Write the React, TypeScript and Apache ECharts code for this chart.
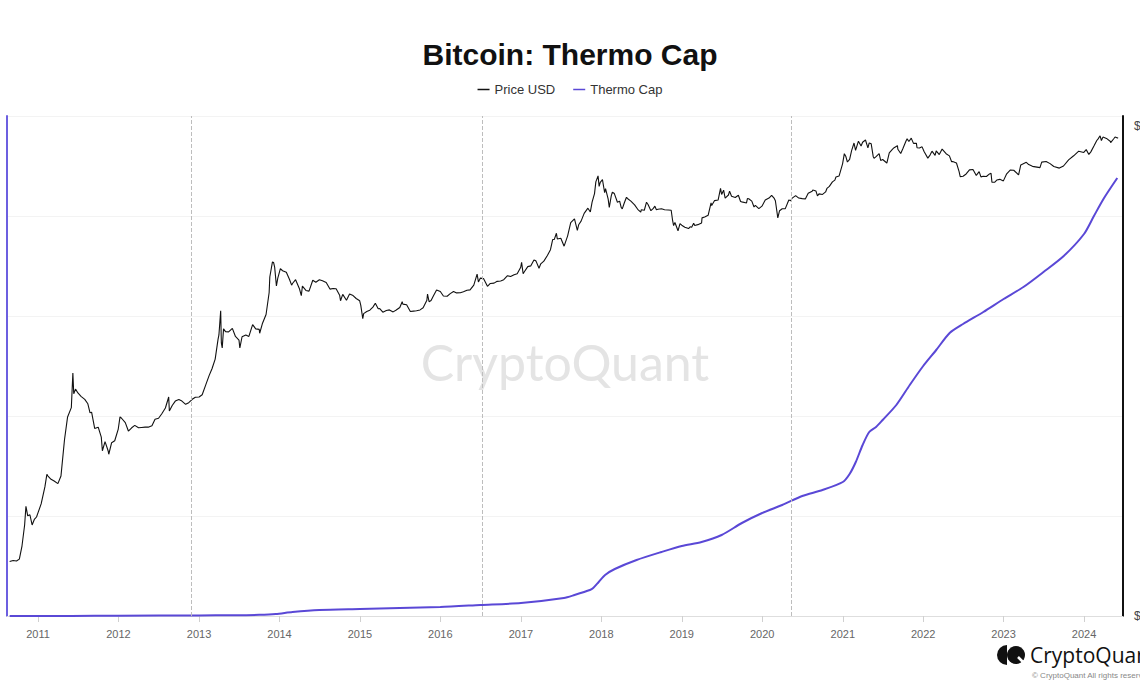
import React, { useEffect, useRef } from "react";
import * as echarts from "echarts";

const chartTitle = "Bitcoin: Thermo Cap";
const legendNames = ["Price USD", "Thermo Cap"];
const halvingDates = ["2012-11-28", "2016-07-09", "2020-05-11"];

// Thermo Cap (USD billions)
const thermoCap: [string, number][] = [
  ["2010-08-25", 0], ["2011-06-01", 0.01], ["2012-01-01", 0.02], ["2013-01-01", 0.06],
  ["2013-06-01", 0.08], ["2013-10-01", 0.12], ["2013-12-15", 0.2], ["2014-03-01", 0.4],
  ["2014-07-01", 0.6], ["2015-01-01", 0.7], ["2015-07-01", 0.8], ["2016-01-01", 0.9],
  ["2016-07-01", 1.1], ["2017-01-01", 1.3], ["2017-07-15", 1.8], ["2017-09-01", 2.1],
  ["2017-11-10", 2.6], ["2017-11-25", 2.8], ["2017-12-20", 3.4], ["2018-01-18", 4.1],
  ["2018-03-03", 4.7], ["2018-06-10", 5.6], ["2018-10-01", 6.4], ["2019-01-01", 7.0],
  ["2019-04-01", 7.4], ["2019-07-01", 8.1], ["2019-10-01", 9.3], ["2020-01-01", 10.3],
  ["2020-04-01", 11.1], ["2020-07-01", 12.0], ["2020-10-01", 12.6], ["2021-01-01", 13.4],
  ["2021-02-01", 14.2], ["2021-03-01", 15.4], ["2021-04-01", 17.1], ["2021-05-01", 18.4],
  ["2021-06-01", 18.9], ["2021-07-01", 19.6], ["2021-09-01", 21.1], ["2021-11-01", 23.1],
  ["2022-01-01", 25.0], ["2022-03-01", 26.6], ["2022-05-01", 28.3], ["2022-07-01", 29.2],
  ["2022-10-01", 30.4], ["2023-01-01", 31.7], ["2023-04-01", 32.9], ["2023-07-01", 34.4],
  ["2023-10-01", 36.0], ["2024-01-01", 38.2], ["2024-02-15", 40.0], ["2024-04-01", 41.8],
  ["2024-05-31", 43.8],
];

// Price USD (log scale)
const priceUsd: [string, number][] = [
  ["2010-08-25", 0.06], ["2010-09-10", 0.062], ["2010-09-25", 0.061], ["2010-10-08", 0.065],
  ["2010-10-20", 0.1], ["2010-11-01", 0.2], ["2010-11-07", 0.37], ["2010-11-15", 0.27],
  ["2010-11-25", 0.28], ["2010-12-05", 0.2], ["2010-12-15", 0.24], ["2010-12-25", 0.26],
  ["2011-01-01", 0.3], ["2011-01-15", 0.4], ["2011-02-01", 0.7], ["2011-02-10", 1.06],
  ["2011-02-15", 1.0], ["2011-03-01", 0.9], ["2011-03-15", 0.85], ["2011-04-01", 0.78],
  ["2011-04-15", 1.0], ["2011-05-01", 3.3], ["2011-05-15", 7.0], ["2011-06-01", 9.5],
  ["2011-06-08", 29.6], ["2011-06-12", 15], ["2011-06-20", 17.5], ["2011-07-01", 15.4],
  ["2011-07-15", 13.8], ["2011-08-01", 12.5], ["2011-08-15", 10.8], ["2011-08-25", 8],
  ["2011-09-01", 8.2], ["2011-09-15", 4.8], ["2011-10-01", 5], ["2011-10-15", 3.6],
  ["2011-10-20", 2.3], ["2011-11-01", 3.1], ["2011-11-15", 2.3], ["2011-11-18", 2.05],
  ["2011-12-01", 3.0], ["2011-12-15", 3.2], ["2011-12-31", 4.7],
  ["2012-01-08", 7], ["2012-01-15", 6.7], ["2012-02-01", 5.8], ["2012-02-15", 4.4],
  ["2012-03-01", 4.9], ["2012-03-15", 5.3], ["2012-04-01", 4.9], ["2012-04-15", 4.95],
  ["2012-05-01", 5.0], ["2012-05-15", 5.0], ["2012-06-01", 5.25], ["2012-06-15", 6.5],
  ["2012-07-01", 6.7], ["2012-07-15", 7.7], ["2012-08-01", 9.4], ["2012-08-16", 13.5],
  ["2012-08-19", 8.5], ["2012-09-01", 10.2], ["2012-09-15", 11.8], ["2012-10-01", 12.4],
  ["2012-10-15", 11.8], ["2012-11-01", 10.6], ["2012-11-15", 11.2], ["2012-12-01", 12.5],
  ["2012-12-15", 13.4],
  ["2013-01-01", 13.5], ["2013-01-15", 14.5], ["2013-02-01", 20.4], ["2013-02-15", 27],
  ["2013-03-01", 34.5], ["2013-03-15", 47], ["2013-03-28", 90], ["2013-04-01", 104],
  ["2013-04-09", 230], ["2013-04-12", 80], ["2013-04-16", 68], ["2013-04-22", 127],
  ["2013-05-01", 116], ["2013-05-15", 115], ["2013-06-01", 129], ["2013-06-15", 99],
  ["2013-07-01", 88], ["2013-07-05", 68], ["2013-07-15", 98], ["2013-08-01", 104],
  ["2013-08-15", 99], ["2013-09-01", 146], ["2013-09-15", 127], ["2013-10-01", 125],
  ["2013-10-03", 110], ["2013-10-15", 150], ["2013-11-01", 204], ["2013-11-15", 420],
  ["2013-11-18", 700], ["2013-11-30", 1150], ["2013-12-05", 1130], ["2013-12-10", 970],
  ["2013-12-18", 520], ["2013-12-24", 670],
  ["2014-01-05", 920], ["2014-01-15", 860], ["2014-02-01", 820], ["2014-02-15", 650],
  ["2014-02-25", 535], ["2014-03-01", 565], ["2014-03-15", 640], ["2014-04-01", 480],
  ["2014-04-10", 380], ["2014-04-15", 520], ["2014-05-01", 450], ["2014-05-15", 440],
  ["2014-06-01", 630], ["2014-06-15", 590], ["2014-07-01", 640], ["2014-07-15", 620],
  ["2014-08-01", 585], ["2014-08-18", 470], ["2014-09-01", 480], ["2014-09-15", 475],
  ["2014-10-01", 385], ["2014-10-05", 320], ["2014-10-15", 395], ["2014-11-01", 325],
  ["2014-11-15", 400], ["2014-12-01", 380], ["2014-12-15", 345], ["2014-12-31", 320],
  ["2015-01-05", 275], ["2015-01-14", 178], ["2015-01-18", 210], ["2015-02-01", 225],
  ["2015-02-15", 235], ["2015-03-01", 260], ["2015-03-12", 295], ["2015-03-25", 246],
  ["2015-04-01", 247], ["2015-04-15", 220], ["2015-05-01", 232], ["2015-05-15", 237],
  ["2015-06-01", 222], ["2015-06-15", 236], ["2015-07-01", 257], ["2015-07-12", 310],
  ["2015-07-15", 287], ["2015-08-01", 281], ["2015-08-18", 225], ["2015-09-01", 228],
  ["2015-09-15", 230], ["2015-10-01", 237], ["2015-10-15", 254], ["2015-11-01", 325],
  ["2015-11-04", 400], ["2015-11-11", 310], ["2015-11-20", 323], ["2015-12-01", 378],
  ["2015-12-15", 455],
  ["2016-01-01", 434], ["2016-01-15", 375], ["2016-02-01", 372], ["2016-02-15", 405],
  ["2016-03-01", 435], ["2016-03-15", 415], ["2016-04-01", 417], ["2016-04-15", 430],
  ["2016-05-01", 452], ["2016-05-15", 458], ["2016-06-01", 536], ["2016-06-16", 768],
  ["2016-06-22", 595], ["2016-07-01", 675], ["2016-07-15", 665], ["2016-08-02", 515],
  ["2016-08-15", 566], ["2016-09-01", 572], ["2016-09-15", 607], ["2016-10-01", 615],
  ["2016-10-15", 640], ["2016-11-01", 730], ["2016-11-15", 712], ["2016-12-01", 753],
  ["2016-12-15", 780], ["2016-12-31", 964],
  ["2017-01-04", 1135], ["2017-01-11", 780], ["2017-01-15", 820], ["2017-02-01", 985],
  ["2017-02-15", 1010], ["2017-03-01", 1222], ["2017-03-10", 1190], ["2017-03-24", 935],
  ["2017-04-01", 1080], ["2017-04-15", 1180], ["2017-05-01", 1420], ["2017-05-15", 1720],
  ["2017-05-25", 2400], ["2017-06-01", 2400], ["2017-06-11", 2950], ["2017-06-15", 2450],
  ["2017-07-01", 2500], ["2017-07-16", 1930], ["2017-08-01", 2710], ["2017-08-15", 4180],
  ["2017-09-01", 4740], ["2017-09-14", 3250], ["2017-09-20", 3900], ["2017-10-01", 4400],
  ["2017-10-15", 5680], ["2017-11-01", 6740], ["2017-11-12", 5950], ["2017-11-20", 8200],
  ["2017-12-01", 10900], ["2017-12-07", 16000], ["2017-12-17", 19500], ["2017-12-22", 13800],
  ["2017-12-27", 15800],
  ["2018-01-06", 17200], ["2018-01-16", 11200], ["2018-01-20", 12800], ["2018-02-01", 9100],
  ["2018-02-06", 6900], ["2018-02-15", 10100], ["2018-02-20", 11400], ["2018-03-01", 10900],
  ["2018-03-15", 8200], ["2018-03-25", 8500], ["2018-04-01", 6900], ["2018-04-06", 6600],
  ["2018-04-15", 8000], ["2018-04-25", 9650], ["2018-05-01", 9200], ["2018-05-15", 8500],
  ["2018-06-01", 7500], ["2018-06-15", 6500], ["2018-06-29", 5900], ["2018-07-01", 6400],
  ["2018-07-15", 6300], ["2018-07-25", 8200], ["2018-08-01", 7600], ["2018-08-14", 6200],
  ["2018-08-25", 6700], ["2018-09-01", 7200], ["2018-09-08", 6400], ["2018-09-15", 6500],
  ["2018-10-01", 6600], ["2018-10-15", 6400], ["2018-11-01", 6350], ["2018-11-14", 6300],
  ["2018-11-20", 4600], ["2018-11-25", 3800], ["2018-12-01", 4200], ["2018-12-15", 3200],
  ["2018-12-24", 4050],
  ["2019-01-01", 3850], ["2019-01-15", 3600], ["2019-02-01", 3450], ["2019-02-08", 3650],
  ["2019-02-15", 3600], ["2019-02-24", 4100], ["2019-03-01", 3800], ["2019-03-15", 3920],
  ["2019-04-01", 4140], ["2019-04-03", 4900], ["2019-04-15", 5040], ["2019-05-01", 5350],
  ["2019-05-14", 8000], ["2019-05-17", 7350], ["2019-05-30", 8650], ["2019-06-01", 8550],
  ["2019-06-15", 8800], ["2019-06-26", 12900], ["2019-07-01", 10600], ["2019-07-10", 12200],
  ["2019-07-17", 9400], ["2019-08-01", 10400], ["2019-08-06", 11800], ["2019-08-15", 10000],
  ["2019-09-01", 9600], ["2019-09-15", 10300], ["2019-09-25", 8400], ["2019-10-01", 8300],
  ["2019-10-22", 8000], ["2019-10-26", 9250], ["2019-11-01", 9200], ["2019-11-15", 8500],
  ["2019-11-25", 7000], ["2019-12-01", 7400], ["2019-12-17", 6650], ["2019-12-31", 7200],
  ["2020-01-15", 8800], ["2020-02-01", 9400], ["2020-02-13", 10300], ["2020-02-25", 9300],
  ["2020-03-01", 8600], ["2020-03-12", 4900], ["2020-03-20", 6200], ["2020-04-01", 6600],
  ["2020-04-15", 6650], ["2020-05-01", 8800], ["2020-05-10", 8600], ["2020-05-15", 9300],
  ["2020-06-01", 10200], ["2020-06-15", 9400], ["2020-07-01", 9230], ["2020-07-15", 9150],
  ["2020-07-28", 11000], ["2020-08-15", 11800], ["2020-08-18", 12250], ["2020-09-01", 11900],
  ["2020-09-08", 10100], ["2020-09-15", 10800], ["2020-10-01", 10600], ["2020-10-15", 11500],
  ["2020-10-21", 12900], ["2020-11-01", 13800], ["2020-11-15", 16000], ["2020-11-26", 17000],
  ["2020-12-01", 18800], ["2020-12-15", 19400], ["2020-12-31", 29000],
  ["2021-01-08", 40500], ["2021-01-15", 36800], ["2021-01-22", 30800], ["2021-02-01", 33500],
  ["2021-02-10", 44800], ["2021-02-21", 57500], ["2021-02-28", 45200], ["2021-03-13", 61200],
  ["2021-03-25", 52300], ["2021-04-01", 59000], ["2021-04-14", 63500], ["2021-04-25", 49000],
  ["2021-05-01", 57800], ["2021-05-10", 56000], ["2021-05-19", 37000], ["2021-05-23", 34700],
  ["2021-06-01", 36700], ["2021-06-15", 40500], ["2021-06-22", 32500], ["2021-07-01", 33500],
  ["2021-07-20", 29800], ["2021-07-31", 41500], ["2021-08-15", 47000], ["2021-08-22", 49300],
  ["2021-09-06", 52700], ["2021-09-08", 46800], ["2021-09-21", 40700], ["2021-10-01", 48100],
  ["2021-10-15", 61500], ["2021-10-20", 66000], ["2021-10-28", 60500], ["2021-11-08", 67500],
  ["2021-11-10", 64900], ["2021-11-18", 56900], ["2021-12-01", 57200], ["2021-12-04", 49300],
  ["2021-12-15", 48900], ["2021-12-27", 50700],
  ["2022-01-05", 43500], ["2022-01-22", 35000], ["2022-02-01", 38700], ["2022-02-10", 44000],
  ["2022-02-24", 38300], ["2022-03-01", 44400], ["2022-03-15", 39300], ["2022-03-28", 47100],
  ["2022-04-15", 40500], ["2022-04-30", 37700], ["2022-05-10", 31000], ["2022-05-15", 31300],
  ["2022-06-01", 29800], ["2022-06-13", 22500], ["2022-06-18", 19000], ["2022-07-01", 19300],
  ["2022-07-15", 20800], ["2022-07-30", 23800], ["2022-08-15", 24100], ["2022-08-30", 19800],
  ["2022-09-12", 22400], ["2022-09-20", 18900], ["2022-10-01", 19300], ["2022-10-15", 19100],
  ["2022-10-29", 20800], ["2022-11-05", 21300], ["2022-11-09", 15900], ["2022-11-21", 15800],
  ["2022-12-01", 17000], ["2022-12-15", 17400], ["2022-12-31", 16550],
  ["2023-01-15", 20900], ["2023-02-01", 23700], ["2023-02-16", 23500], ["2023-03-10", 20200],
  ["2023-03-20", 28000], ["2023-04-14", 30500], ["2023-04-25", 28300], ["2023-05-12", 26700],
  ["2023-06-15", 25600], ["2023-06-23", 30700], ["2023-07-13", 31400], ["2023-07-31", 29200],
  ["2023-08-17", 26600], ["2023-09-11", 25200], ["2023-09-30", 27000], ["2023-10-23", 33000],
  ["2023-11-15", 37800], ["2023-12-08", 44000], ["2023-12-31", 42200],
  ["2024-01-11", 46300], ["2024-01-23", 39500], ["2024-02-01", 43000], ["2024-02-15", 52000],
  ["2024-02-28", 62500], ["2024-03-05", 66000], ["2024-03-14", 73000], ["2024-03-20", 62500],
  ["2024-03-27", 69900], ["2024-04-12", 67000], ["2024-04-30", 60600], ["2024-05-01", 58300],
  ["2024-05-15", 66200], ["2024-05-21", 70100], ["2024-06-01", 67700], ["2024-06-03", 69000],
];

const xMin = "2010-08-13";
const xMax = "2024-06-26";

export default function App() {
  const ref = useRef<HTMLDivElement>(null);
  useEffect(() => {
    const chart = echarts.init(ref.current!, null, { renderer: "svg" });
    const purple = "#5a48d6";
    const font = "'Liberation Sans', Arial, sans-serif";
    chart.setOption({
      animation: false,
      backgroundColor: "#ffffff",
      title: {
        text: chartTitle,
        left: "center",
        top: 34,
        textStyle: { fontSize: 30, fontWeight: "bold", color: "#111", fontFamily: font },
      },
      legend: {
        data: legendNames,
        top: 78,
        left: "center",
        itemGap: 18,
        itemWidth: 12,
        itemHeight: 1.5,
        icon: "rect",
        textStyle: { fontSize: 13, color: "#333", fontFamily: font },
      },
      grid: { left: 7, right: 17, top: 116, bottom: 78, containLabel: false, outerBoundsMode: "none" },
      xAxis: {
        type: "time",
        min: xMin,
        max: xMax,
        splitNumber: 14,
        minInterval: 365 * 86400000,
        maxInterval: 366 * 86400000,
        axisLine: { lineStyle: { color: "#dedede" } },
        axisTick: { show: true, length: 6, lineStyle: { color: "#d0d0d0" } },
        axisLabel: { formatter: "{yyyy}", color: "#666", fontSize: 11, margin: 12, fontFamily: font },
        splitLine: { show: false },
      },
      yAxis: [
        {
          type: "value",
          position: "left",
          min: 0,
          max: 50,
          interval: 10,
          axisLine: { show: true, lineStyle: { color: "#6c5fe0", width: 2 } },
          axisTick: { show: false },
          axisLabel: { show: false },
          splitLine: { show: true, lineStyle: { color: "#f3f3f3", width: 1 } },
        },
        {
          type: "log",
          position: "right",
          min: 0.01,
          max: 140000,
          axisLine: { show: true, lineStyle: { color: "#111", width: 2 } },
          axisTick: { show: false },
          splitLine: { show: false },
          axisLabel: {
            show: true,
            margin: 11,
            color: "#444",
            fontSize: 12,
            fontFamily: font,
            formatter: (v: number) => {
              const l = Math.log10(v);
              if (Math.abs(l - 5) < 1e-6) return "$100K";
              if (Math.abs(l + 2) < 1e-6) return "$0.01";
              return "";
            },
          },
        },
      ],
      graphic: [
        {
          type: "text",
          x: 565,
          y: 362,
          z: 0,
          silent: true,
          style: {
            text: "CryptoQuant",
            fontSize: 50,
            fontFamily: "Lato, 'Open Sans', sans-serif",
            fill: "#e4e4e4",
            textAlign: "center",
            textVerticalAlign: "middle",
          },
        },
        {
          type: "sector",
          shape: { cx: 1007, cy: 655, r: 10, r0: 0, startAngle: Math.PI / 2, endAngle: (3 * Math.PI) / 2 },
          style: { fill: "#111" },
        },
        {
          type: "circle",
          shape: { cx: 1016, cy: 655, r: 9 },
          style: { fill: "#111" },
        },
        {
          type: "line",
          shape: { x1: 1018, y1: 657, x2: 1026, y2: 665 },
          style: { stroke: "#fff", lineWidth: 2.5 },
        },
        {
          type: "text",
          x: 1030,
          y: 655,
          style: {
            text: "CryptoQuant",
            fontSize: 21,
            fontWeight: 500,
            fontFamily: "'Open Sans', sans-serif",
            fill: "#111",
            textVerticalAlign: "middle",
          },
        },
        {
          type: "text",
          x: 1032,
          y: 675,
          style: {
            text: "© CryptoQuant All rights reserved.",
            fontSize: 8,
            fontFamily: font,
            fill: "#888",
            textVerticalAlign: "middle",
          },
        },
      ],
      series: [
        {
          name: "Thermo Cap",
          type: "line",
          yAxisIndex: 0,
          data: thermoCap,
          symbol: "none",
          smooth: 0.25,
          lineStyle: { color: purple, width: 2 },
          itemStyle: { color: purple },
          z: 3,
        },
        {
          name: "Price USD",
          type: "line",
          yAxisIndex: 1,
          data: priceUsd,
          symbol: "none",
          lineStyle: { color: "#111", width: 1.1 },
          itemStyle: { color: "#111" },
          z: 4,
          markLine: {
            silent: true,
            symbol: ["none", "none"],
            label: { show: false },
            lineStyle: { type: "dashed", color: "#bdbdbd", width: 1 },
            data: halvingDates.map((d) => ({ xAxis: d })),
          },
        },
      ],
    });
    return () => chart.dispose();
  }, []);
  return (
    <div
      ref={ref}
      style={{ position: "fixed", left: 0, top: 0, width: 1140, height: 694, background: "#fff" }}
    />
  );
}
